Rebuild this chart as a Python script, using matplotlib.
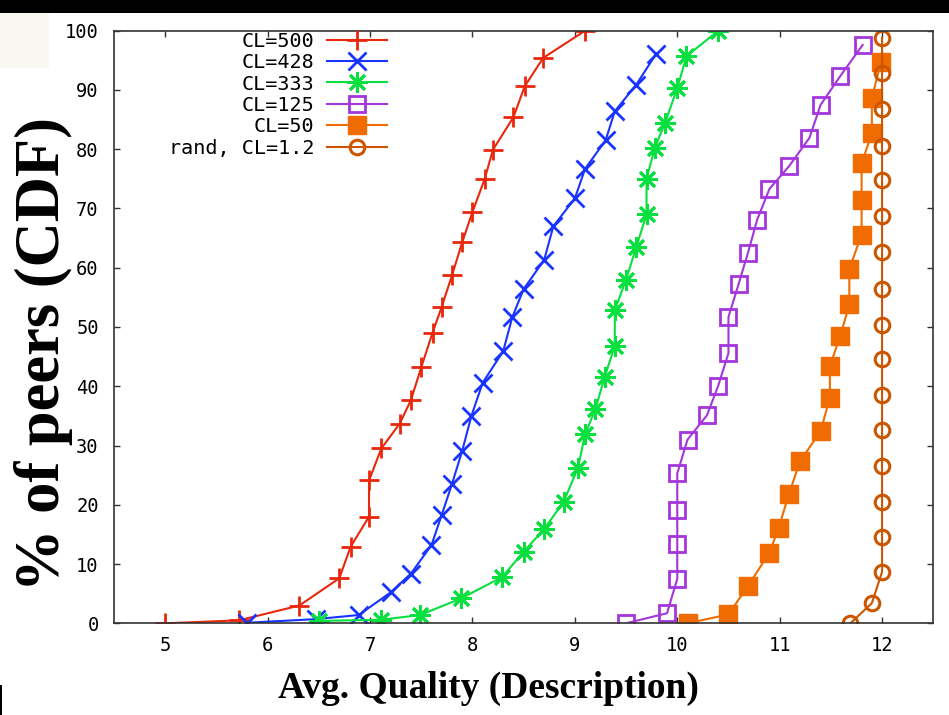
import numpy as np
import matplotlib
matplotlib.use('Agg')
import matplotlib.pyplot as plt
from matplotlib.patches import Rectangle

# CDF values (x = avg quality, y = % of peers)
cl500_x = [5.0, 5.72, 6.31, 6.70, 6.81, 6.99, 6.99, 7.11, 7.29, 7.40, 7.50,
           7.61, 7.70, 7.80, 7.90, 8.00, 8.12, 8.20, 8.40, 8.51, 8.69, 9.10]
cl500_y = [0, 0.5, 3.0, 7.6, 12.9, 18.0, 24.1, 29.5, 33.7, 37.7, 43.2,
           49.0, 53.4, 58.7, 64.3, 69.4, 75.0, 79.9, 85.4, 90.6, 95.4, 100]

cl428_x = [5.80, 6.47, 6.89, 7.20, 7.40, 7.60, 7.70, 7.80, 7.90, 7.99, 8.10,
           8.30, 8.39, 8.50, 8.70, 8.79, 9.00, 9.10, 9.30, 9.39, 9.60, 9.79]
cl428_y = [0.1, 0.7, 1.4, 5.2, 8.4, 13.2, 18.3, 23.5, 29.1, 35.0, 40.6,
           45.9, 51.7, 56.4, 61.3, 67.0, 71.7, 76.7, 81.5, 86.4, 90.9, 96.0]

cl333_x = [6.50, 7.11, 7.49, 7.89, 8.29, 8.50, 8.70, 8.89, 9.03, 9.10, 9.20, 9.29,
           9.39, 9.39, 9.50, 9.60, 9.70, 9.70, 9.78, 9.88, 10.0, 10.09, 10.40]
cl333_y = [0.4, 0.6, 1.4, 4.2, 7.8, 12.1, 15.9, 20.5, 26.2, 31.9, 36.1, 41.5,
           46.8, 52.8, 58.0, 63.5, 69.0, 75.0, 80.2, 84.4, 90.3, 95.7, 100]

cl125_x = [9.50, 9.90, 10.0, 10.0, 10.0, 10.0, 10.10, 10.29, 10.40, 10.50,
           10.50, 10.60, 10.69, 10.78, 10.90, 11.09, 11.29, 11.40, 11.59, 11.81]
cl125_y = [0, 1.7, 7.5, 13.3, 19.2, 25.3, 31.0, 35.1, 40.1, 45.6,
           51.7, 57.3, 62.5, 68.1, 73.3, 77.1, 81.9, 87.5, 92.3, 97.6]

cl50_x = [10.10, 10.50, 10.69, 10.90, 10.99, 11.09, 11.20, 11.40, 11.49, 11.49,
          11.59, 11.68, 11.68, 11.80, 11.80, 11.80, 11.90, 11.90, 11.99]
cl50_y = [0, 1.5, 6.3, 11.9, 16.1, 21.8, 27.4, 32.4, 38.1, 43.4,
          48.4, 53.8, 59.8, 65.6, 71.5, 77.6, 82.7, 88.7, 94.7]

rand_x = [11.69, 11.90, 12.0, 12.0, 12.0, 12.0, 12.0, 12.0, 12.0,
          12.0, 12.0, 12.0, 12.0, 12.0, 12.0, 12.0, 12.0, 12.0]
rand_y = [0, 3.4, 8.7, 14.6, 20.5, 26.5, 32.6, 38.6, 44.6,
          50.4, 56.4, 62.6, 68.7, 74.8, 80.6, 86.8, 92.8, 98.8]

x_ticks = [5, 6, 7, 8, 9, 10, 11, 12]
y_ticks = [0, 10, 20, 30, 40, 50, 60, 70, 80, 90, 100]

W, H = 949, 715
fig = plt.figure(figsize=(W / 100, H / 100), dpi=100)
ax = fig.add_axes([114 / W, 1 - 623.3 / H, (933.3 - 114) / W, (623.3 - 30.7) / H])

# screenshot decorations: black strip at top, pale box at upper left
fig.patches.append(Rectangle((0, 1 - 13 / H), 1, 13 / H, transform=fig.transFigure,
                             facecolor='black', edgecolor='none'))
fig.patches.append(Rectangle((0, 1 - 68 / H), 49 / W, 55 / H, transform=fig.transFigure,
                             facecolor='#f8f8f0', edgecolor='none'))
fig.patches.append(Rectangle((0, 0), 2 / W, 30 / H, transform=fig.transFigure,
                             facecolor='black', edgecolor='none'))

lw = 1.5
ax.plot(cl500_x, cl500_y, color='#e8280c', lw=lw, marker='+', ms=15, mew=2.0, label='CL=500')
ax.plot(cl428_x, cl428_y, color='#1a34ff', lw=lw, marker='x', ms=13, mew=2.0, label='CL=428')
ax.plot(cl333_x, cl333_y, color='#08e040', lw=lw, marker=(8, 2, 0), ms=15, mew=2.0, label='CL=333')
ax.plot(cl125_x, cl125_y, color='#a436dc', lw=lw, marker='s', ms=12, mew=2.0,
        markerfacecolor='none', label='CL=125')
ax.plot(cl50_x, cl50_y, color='#f06c00', lw=lw, marker='s', ms=13, mew=1.0, label='CL=50')
ax.plot(rand_x, rand_y, color='#cc5500', lw=lw, marker='o', ms=10.5, mew=2.2,
        markerfacecolor='none', label='rand, CL=1.2')

ax.set_xlim(4.5, 12.5)
ax.set_ylim(0, 100)
ax.set_xticks(x_ticks)
ax.set_yticks(y_ticks)

mono = 'DejaVu Sans Mono'
ax.tick_params(direction='in', length=4, width=1, color='#333333',
               top=True, right=True, labelsize=13.5)
ax.tick_params(axis='x', pad=9)
ax.tick_params(axis='y', pad=11)
for lab in ax.get_xticklabels() + ax.get_yticklabels():
    lab.set_family(mono)
for sp in ax.spines.values():
    sp.set_color('#333333')
    sp.set_linewidth(1.2)

fig.text(488 / W, 1 - 688 / H, 'Avg. Quality (Description)', ha='center', va='center',
         family='Liberation Serif', weight='bold', fontsize=27)
fig.text(44 / W, 1 - 354 / H, '% of peers (CDF)', ha='center', va='center', rotation=90,
         family='Liberation Serif', weight='bold', fontsize=45)

ax.legend(loc='upper right', bbox_to_anchor=((388 - 114) / (933.3 - 114), 1.0),
          frameon=False, markerfirst=False, numpoints=1, handlelength=3.0,
          handletextpad=0.6, labelspacing=0.12, borderaxespad=0.0, borderpad=0.05,
          prop={'family': mono, 'size': 14.5})

fig.savefig('out.png', dpi=100)
